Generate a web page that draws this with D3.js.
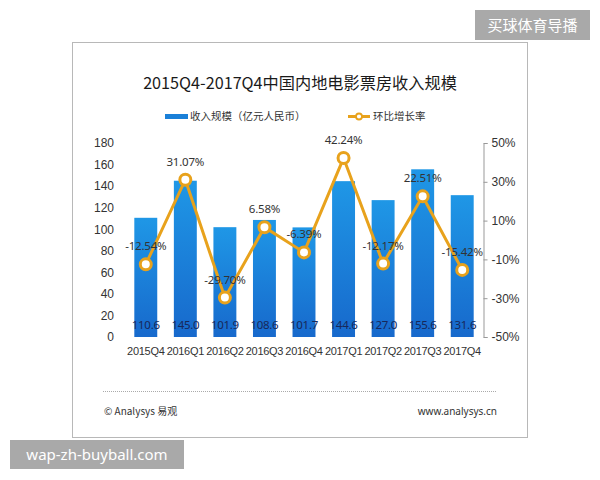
<!DOCTYPE html>
<html>
<head>
<meta charset="utf-8">
<script src="https://cdn.jsdelivr.net/npm/d3@7"></script>
<style>
  body { margin: 0; background: #fff; }
  svg { display: block; font-family: "Noto Sans", "Noto Sans CJK SC", sans-serif; }
</style>
</head>
<body>
<svg id="chart" width="600" height="480"></svg>
<script>
// data
var quarters = ["2015Q4", "2016Q1", "2016Q2", "2016Q3", "2016Q4",
                "2017Q1", "2017Q2", "2017Q3", "2017Q4"];
var revenue = [110.6, 145.0, 101.9, 108.6, 101.7, 144.6, 127.0, 155.6, 131.6];
var growth = [-12.54, 31.07, -29.70, 6.58, -6.39, 42.24, -12.17, 22.51, -15.42];
var leftTicks = [0, 20, 40, 60, 80, 100, 120, 140, 160, 180];
var rightTicks = [-50, -30, -10, 10, 30, 50];

var svg = d3.select("#chart");
var cjk = '"Noto Sans CJK SC", sans-serif';

// plot area
var plot = { left: 126, right: 482, top: 143, bottom: 337 };

var x = d3.scaleBand()
    .domain(quarters)
    .range([plot.left, plot.right])
    .paddingInner(0.42)
    .paddingOuter(0.21);

var y = d3.scaleLinear()
    .domain([0, 180])
    .range([plot.bottom, plot.top]);

var y2 = d3.scaleLinear()
    .domain([-50, 50])
    .range([plot.bottom, plot.top]);

// frame
svg.append("rect")
    .attr("x", 72.5).attr("y", 42.5)
    .attr("width", 455).attr("height", 395)
    .attr("fill", "#fff")
    .attr("stroke", "#b8b8b8");

// gradient for bars
var grad = svg.append("defs").append("linearGradient")
    .attr("id", "barGrad")
    .attr("x1", 0).attr("y1", 0).attr("x2", 0).attr("y2", 1);
grad.append("stop").attr("offset", "0%").attr("stop-color", "#1f97e6");
grad.append("stop").attr("offset", "100%").attr("stop-color", "#1769cc");

// title
svg.append("text")
    .attr("x", 300).attr("y", 89)
    .attr("text-anchor", "middle")
    .style("font-family", cjk)
    .style("font-size", "16.2px")
    .attr("fill", "#1a1a1a")
    .text("2015Q4-2017Q4中国内地电影票房收入规模");

// legend
svg.append("rect")
    .attr("x", 165).attr("y", 114)
    .attr("width", 23).attr("height", 5)
    .attr("fill", "#1a80d8");
svg.append("text")
    .attr("x", 190).attr("y", 120)
    .style("font-family", cjk)
    .style("font-size", "10.5px")
    .attr("fill", "#333")
    .text("收入规模（亿元人民币）");

svg.append("line")
    .attr("x1", 348).attr("x2", 370)
    .attr("y1", 116.5).attr("y2", 116.5)
    .attr("stroke", "#e8a21c").attr("stroke-width", 3);
svg.append("circle")
    .attr("cx", 359).attr("cy", 116.5).attr("r", 3)
    .attr("fill", "#fff")
    .attr("stroke", "#e8a21c").attr("stroke-width", 1.8);
svg.append("text")
    .attr("x", 373).attr("y", 120)
    .style("font-family", cjk)
    .style("font-size", "10.5px")
    .attr("fill", "#333")
    .text("环比增长率");

// left axis (labels only)
var leftAxis = svg.append("g")
    .attr("transform", "translate(" + (plot.left - 12) + ",0)")
    .call(d3.axisLeft(y).tickValues(leftTicks).tickSize(0).tickPadding(0));
leftAxis.select(".domain").remove();
leftAxis.selectAll("text")
    .style("font-size", "12px")
    .attr("fill", "#333");

// right axis
var rightAxis = svg.append("g")
    .attr("transform", "translate(483.5,0)")
    .call(d3.axisRight(y2).tickValues(rightTicks).tickSize(4).tickSizeOuter(4)
        .tickPadding(4)
        .tickFormat(function (d) { return d + "%"; }));
rightAxis.select(".domain").attr("stroke", "#999");
rightAxis.selectAll(".tick line").attr("stroke", "#999");
rightAxis.selectAll("text")
    .style("font-size", "12px")
    .attr("fill", "#333");

// x axis
var xAxis = svg.append("g")
    .attr("transform", "translate(0," + plot.bottom + ")")
    .call(d3.axisBottom(x).tickSize(0).tickPadding(10));
xAxis.select(".domain").remove();
xAxis.selectAll("text")
    .style("font-size", "11px")
    .style("letter-spacing", "-0.3px")
    .attr("fill", "#333");

// bars
svg.selectAll(".bar")
    .data(revenue)
    .enter()
    .append("rect")
    .attr("class", "bar")
    .attr("x", function (d, i) { return x(quarters[i]); })
    .attr("y", function (d) { return y(d); })
    .attr("width", x.bandwidth())
    .attr("height", function (d) { return plot.bottom - y(d); })
    .attr("fill", "url(#barGrad)");

// bar values
svg.selectAll(".barval")
    .data(revenue)
    .enter()
    .append("text")
    .attr("class", "barval")
    .attr("x", function (d, i) { return x(quarters[i]) + x.bandwidth() / 2; })
    .attr("y", plot.bottom - 8)
    .attr("text-anchor", "middle")
    .style("font-size", "11.5px")
    .style("letter-spacing", "-0.3px")
    .attr("fill", "#17285a")
    .text(function (d) { return d.toFixed(1); });

// growth line
var line = d3.line()
    .x(function (d, i) { return x(quarters[i]) + x.bandwidth() / 2; })
    .y(function (d) { return y2(d); });

svg.append("path")
    .datum(growth)
    .attr("d", line)
    .attr("fill", "none")
    .attr("stroke", "#e8a21c")
    .attr("stroke-width", 3);

svg.selectAll(".dot")
    .data(growth)
    .enter()
    .append("circle")
    .attr("class", "dot")
    .attr("cx", function (d, i) { return x(quarters[i]) + x.bandwidth() / 2; })
    .attr("cy", function (d) { return y2(d); })
    .attr("r", 5.5)
    .attr("fill", "#fff")
    .attr("stroke", "#e8a21c")
    .attr("stroke-width", 3);

svg.selectAll(".growval")
    .data(growth)
    .enter()
    .append("text")
    .attr("class", "growval")
    .attr("x", function (d, i) { return x(quarters[i]) + x.bandwidth() / 2; })
    .attr("y", function (d) { return y2(d) - 14; })
    .attr("text-anchor", "middle")
    .style("font-size", "11.5px")
    .style("letter-spacing", "-0.2px")
    .attr("fill", "#333")
    .text(function (d) { return d.toFixed(2) + "%"; });

// footer
svg.append("line")
    .attr("x1", 103).attr("x2", 497)
    .attr("y1", 391.5).attr("y2", 391.5)
    .attr("stroke", "#aaa")
    .attr("stroke-dasharray", "1,1");

svg.append("text")
    .attr("x", 104).attr("y", 415)
    .style("font-family", cjk)
    .style("font-size", "10px")
    .attr("fill", "#333")
    .text("© Analysys 易观");

svg.append("text")
    .attr("x", 497).attr("y", 415)
    .attr("text-anchor", "end")
    .style("font-size", "10px")
    .attr("fill", "#333")
    .text("www.analysys.cn");

// watermark boxes
svg.append("rect")
    .attr("x", 475).attr("y", 10)
    .attr("width", 115).attr("height", 30)
    .attr("fill", "#a9a9a9");
svg.append("text")
    .attr("x", 532.5).attr("y", 31)
    .attr("text-anchor", "middle")
    .style("font-family", cjk)
    .style("font-size", "15px")
    .attr("fill", "#fff")
    .text("买球体育导播");

svg.append("rect")
    .attr("x", 10).attr("y", 440)
    .attr("width", 174).attr("height", 29)
    .attr("fill", "#a9a9a9");
svg.append("text")
    .attr("x", 97).attr("y", 460)
    .attr("text-anchor", "middle")
    .style("font-size", "15px")
    .attr("fill", "#fff")
    .text("wap-zh-buyball.com");
</script>
</body>
</html>
